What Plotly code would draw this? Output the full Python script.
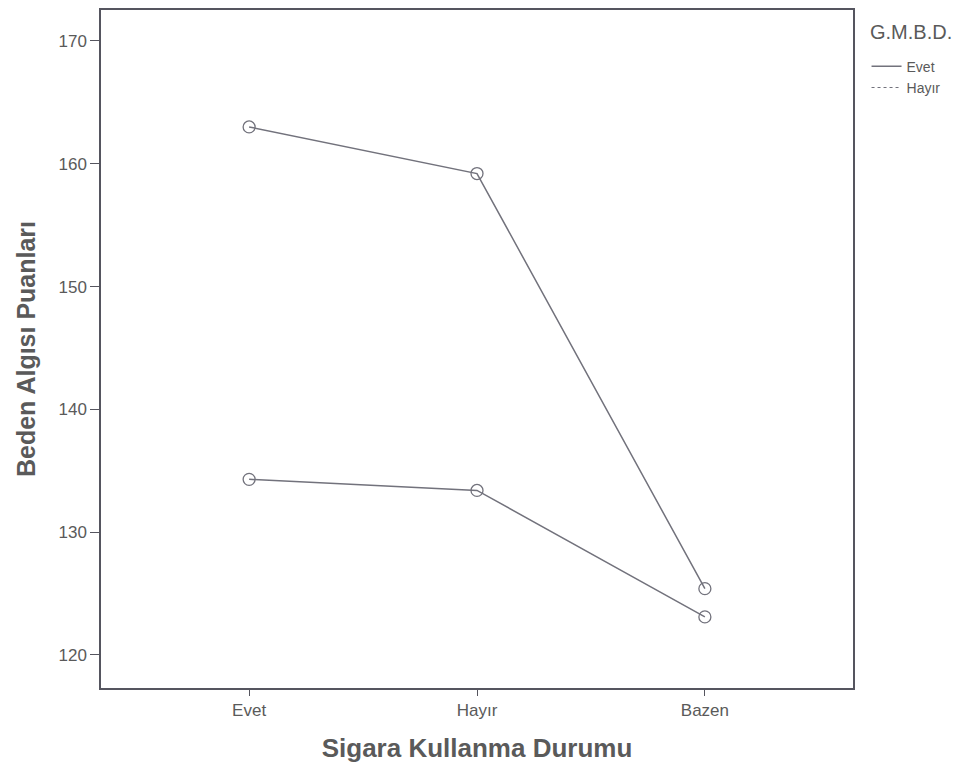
import plotly.graph_objects as go

categories = ["Evet", "Hayır", "Bazen"]
evet_values = [163.0, 159.2, 125.4]
hayir_values = [134.3, 133.4, 123.1]
y_ticks = [120, 130, 140, 150, 160, 170]

line_col = "#72727c"
text_col = "#5a5a5a"
axis_col = "#55555f"

fig = go.Figure()
for name, vals in [("Evet", evet_values), ("Hayır", hayir_values)]:
    fig.add_trace(go.Scatter(
        x=list(range(len(categories))), y=vals, mode="lines+markers",
        line=dict(color=line_col, width=1.5),
        marker=dict(symbol="circle-open", size=12, color=line_col, line=dict(width=1.3)),
        showlegend=False, hoverinfo="skip"))

fig.add_trace(go.Scatter(x=[None], y=[None], mode="lines", name="Evet",
                         line=dict(color=line_col, width=1.5)))
fig.add_trace(go.Scatter(x=[None], y=[None], mode="lines", name="Hayır",
                         line=dict(color=line_col, width=1.2, dash="dot")))

fig.add_annotation(text="G.M.B.D.", xref="paper", yref="paper", x=1.02, y=0.967,
                   xanchor="left", yanchor="middle", showarrow=False,
                   font=dict(size=20, color=text_col))

fig.update_layout(
    width=966, height=763,
    margin=dict(l=93, r=121, t=2, b=83, autoexpand=False),
    paper_bgcolor="white", plot_bgcolor="white",
    font=dict(family="Liberation Sans, Arial", color=text_col, size=17),
    legend=dict(
        x=1.018, y=0.94, xanchor="left", yanchor="top",
        font=dict(size=14, color=text_col), itemwidth=30,
        tracegroupgap=0,
    ),
    xaxis=dict(
        range=[-0.65, 2.65], tickmode="array",
        tickvals=list(range(len(categories))), ticktext=categories,
        showgrid=False, zeroline=False,
        showline=True, linecolor=axis_col, linewidth=1.5, mirror=True,
        ticks="outside", ticklen=6, tickcolor=axis_col,
        tickfont=dict(size=17),
        title=dict(text="<b>Sigara Kullanma Durumu</b>", font=dict(size=26, color=text_col), standoff=20),
    ),
    yaxis=dict(
        range=[117.31, 172.52], tickvals=y_ticks,
        showgrid=False, zeroline=False,
        showline=True, linecolor=axis_col, linewidth=1.5, mirror=True,
        ticks="outside", ticklen=9, tickcolor=axis_col,
        tickfont=dict(size=17),
        title=dict(text="<b>Beden Algısı Puanları</b>", font=dict(size=25, color=text_col), standoff=16),
    ),
)

fig.write_html("out.html")
